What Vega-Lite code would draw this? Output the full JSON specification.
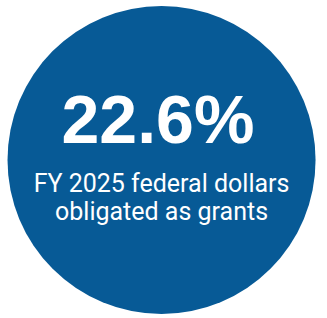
{
  "$schema": "https://vega.github.io/schema/vega-lite/v6.json",
  "width": 327,
  "height": 318,
  "padding": 0,
  "autosize": {"type": "fit", "contains": "padding"},
  "background": "white",
  "config": {"view": {"stroke": null}},
  "datasets": {
    "circle": [{"x": 49.4, "y": 50.3}],
    "headline": [{"text": "22.6%", "x": 48.3, "y": 45.0}],
    "caption": [
      {"text": "FY 2025 federal dollars", "x": 49.4, "y": 60.4},
      {"text": "obligated as grants", "x": 49.4, "y": 69.2}
    ]
  },
  "encoding": {
    "x": {"field": "x", "type": "quantitative", "scale": {"domain": [0, 100], "nice": false, "zero": false}, "axis": null},
    "y": {"field": "y", "type": "quantitative", "scale": {"domain": [0, 100], "nice": false, "zero": false, "reverse": true}, "axis": null}
  },
  "layer": [
    {
      "data": {"name": "circle"},
      "mark": {"type": "point", "shape": "circle", "filled": true, "size": 94900, "color": "#075A96", "opacity": 1}
    },
    {
      "data": {"name": "headline"},
      "mark": {"type": "text", "font": "Liberation Sans", "fontWeight": "bold", "fontSize": 68, "color": "white", "align": "center", "baseline": "alphabetic"},
      "encoding": {"text": {"field": "text"}}
    },
    {
      "data": {"name": "caption"},
      "mark": {"type": "text", "font": "Roboto", "fontSize": 25, "color": "white", "align": "center", "baseline": "alphabetic"},
      "encoding": {"text": {"field": "text"}}
    }
  ]
}
